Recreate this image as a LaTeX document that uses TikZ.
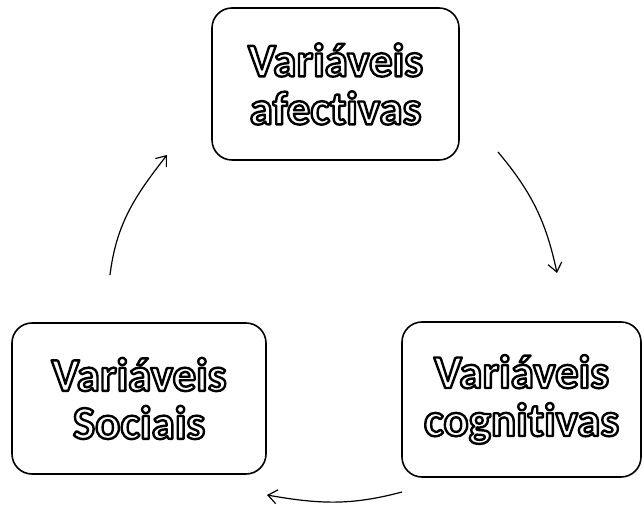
\documentclass[tikz,border=0pt]{standalone}
\usepackage{fontspec}
\setmainfont{Carlito}[Ligatures=CommonOff]
\usetikzlibrary{arrows.meta}
\tikzset{
  boxnode/.style={draw=black, line width=1.6pt, rounded corners=20pt, align=center,
    inner sep=0pt, font=\fontsize{47}{48}\selectfont\bfseries},
  flow/.style={line width=1.2pt, -{Straight Barb[length=9pt,width=14pt,line width=1.2pt]}},
}
\newcommand{\outl}[1]{\textcolor{white}{\special{pdf:literal 2 Tr 2.4 w 1 j 0 G}#1\special{pdf:literal 0 Tr}}}
\begin{document}
\begin{tikzpicture}[x=1pt,y=1pt]
\useasboundingbox (0,0) rectangle (644,505);
\node[boxnode, minimum width=247pt, minimum height=152pt] (aff) at (335.5,421) {\outl{Variáveis}\\\outl{afectivas}};
\node[boxnode, minimum width=254pt, minimum height=151pt] (soc) at (139,106.5) {\outl{Variáveis}\\\outl{Sociais}};
\node[boxnode, minimum width=239pt, minimum height=155pt] (cog) at (521.5,105.5) {\outl{Variáveis}\\\outl{cognitivas}};
\coordinate (a1) at (110,230);
\coordinate (a2) at (167,350);
\coordinate (b1) at (498,353);
\coordinate (b2) at (557,232);
\coordinate (c1) at (402,13);
\coordinate (c2) at (267,10);
\draw[flow] (a1) to[out=83, in=232] (a2);
\draw[flow] (b1) to[out=-50, in=102] (b2);
\draw[flow] (c1) to[out=195, in=-10] (c2);
\end{tikzpicture}
\end{document}
